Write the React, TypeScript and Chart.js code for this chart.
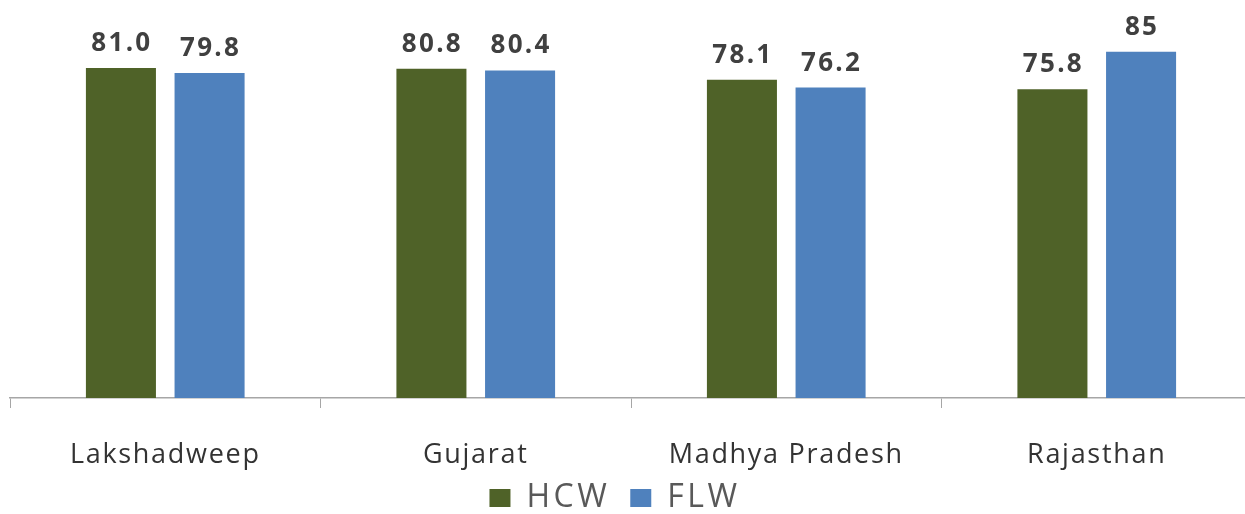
import React, { useEffect, useRef } from 'react';
import { Chart, registerables } from 'chart.js';

Chart.register(...registerables);

const categories = ['Lakshadweep', 'Gujarat', 'Madhya Pradesh', 'Rajasthan'];
const seriesNames = ['HCW', 'FLW'];
const hcwValues = [81.0, 80.8, 78.1, 75.8];
const flwValues = [79.8, 80.4, 76.2, 85];
const hcwLabels = ['81.0', '80.8', '78.1', '75.8'];
const flwLabels = ['79.8', '80.4', '76.2', '85'];
const yTicks = [0, 95];

const HCW_COLOR = '#4f6228';
const FLW_COLOR = '#4f81bd';
const FONT = '"Open Sans", "Noto Sans", sans-serif';
const TICK_SPACING = '1.7px';
const LEGEND_SPACING = '3.5px';
const LABEL_SPACING = '2.3px';
const LEGEND_SHIFT_X = -16;
const LEGEND_OFFSET_Y = 64;

const valueLabels = [hcwLabels, flwLabels];

const setSpacing = (ctx: any, v: string) => {
  ctx.letterSpacing = v;
};

const spacingPlugin = {
  id: 'spacing',
  beforeLayout(chart: any) {
    setSpacing(chart.ctx, TICK_SPACING);
  },
  afterLayout(chart: any) {
    const lg = chart.legend;
    if (lg) {
      const h = lg.bottom - lg.top;
      lg.left += LEGEND_SHIFT_X;
      lg.right += LEGEND_SHIFT_X;
      lg.top = chart.chartArea.bottom + LEGEND_OFFSET_Y;
      lg.bottom = lg.top + h;
    }
  },
  beforeDraw(chart: any) {
    setSpacing(chart.ctx, TICK_SPACING);
  },
};

const valueLabelPlugin = {
  id: 'valueLabels',
  afterDatasetsDraw(chart: any) {
    const ctx = chart.ctx;
    ctx.save();
    setSpacing(ctx, LABEL_SPACING);
    ctx.font = `bold 26px ${FONT}`;
    ctx.fillStyle = '#404040';
    ctx.textAlign = 'center';
    ctx.textBaseline = 'alphabetic';
    chart.data.datasets.forEach((_ds: any, di: number) => {
      const meta = chart.getDatasetMeta(di);
      meta.data.forEach((bar: any, i: number) => {
        ctx.fillText(valueLabels[di][i], bar.x + 1, bar.y - 17);
      });
    });
    ctx.restore();
  },
};

export default function App() {
  const ref = useRef<HTMLCanvasElement | null>(null);

  useEffect(() => {
    if (!ref.current) return;
    const chart: any = new Chart(ref.current, {
      type: 'bar',
      data: {
        labels: categories,
        datasets: [
          {
            label: seriesNames[0],
            data: hcwValues,
            backgroundColor: HCW_COLOR,
            categoryPercentage: 0.571,
            barPercentage: 0.79,
          },
          {
            label: seriesNames[1],
            data: flwValues,
            backgroundColor: FLW_COLOR,
            categoryPercentage: 0.571,
            barPercentage: 0.79,
          },
        ],
      },
      options: {
        responsive: false,
        animation: false,
        layout: { padding: { left: 10, right: 0, top: 11, bottom: -50.4 } },
        plugins: {
          legend: {
            position: 'bottom',
            labels: {
              font: { family: FONT, size: 32 },
              color: '#595959',
              boxWidth: 21,
              boxHeight: 18,
              padding: 20,
            },
          },
          tooltip: { enabled: false },
        },
        scales: {
          x: {
            grid: {
              display: true,
              drawOnChartArea: false,
              drawTicks: true,
              tickLength: 10,
              color: '#a6a6a6',
              lineWidth: 1,
            },
            border: { display: true, color: '#a6a6a6', width: 1.5 },
            ticks: {
              font: { family: FONT, size: 27 },
              color: '#333333',
              padding: 31,
            },
          },
          y: {
            display: false,
            min: yTicks[0],
            max: yTicks[1],
          },
        },
      },
      plugins: [spacingPlugin, valueLabelPlugin],
    });

    const lg = chart.legend;
    if (lg) {
      const origFit = lg.fit.bind(lg);
      const origDraw = lg.draw.bind(lg);
      lg.fit = (...args: any[]) => {
        setSpacing(chart.ctx, LEGEND_SPACING);
        origFit(...args);
        setSpacing(chart.ctx, TICK_SPACING);
      };
      lg.draw = (...args: any[]) => {
        setSpacing(chart.ctx, LEGEND_SPACING);
        origDraw(...args);
        setSpacing(chart.ctx, TICK_SPACING);
      };
      chart.update();
    }

    return () => chart.destroy();
  }, []);

  return (
    <div
      style={{
        position: 'fixed',
        left: 0,
        top: 0,
        width: 1245,
        height: 514,
        overflow: 'hidden',
        background: '#ffffff',
      }}
    >
      <canvas ref={ref} width={1252} height={514} style={{ display: 'block' }} />
    </div>
  );
}
